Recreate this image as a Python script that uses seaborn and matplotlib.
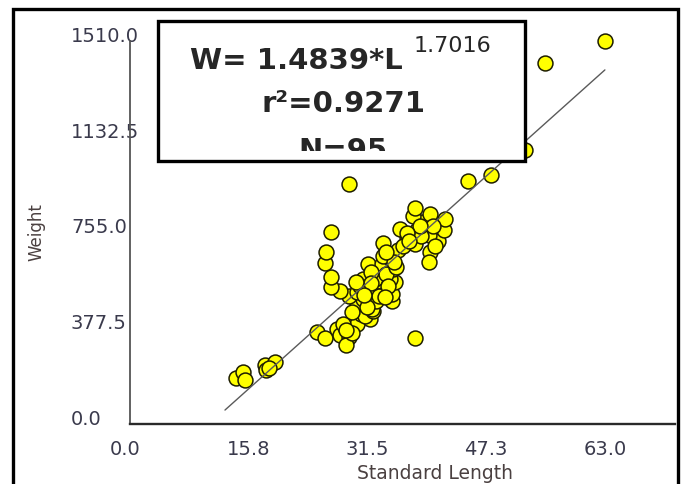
import numpy as np
import pandas as pd
import matplotlib
matplotlib.use("Agg")
import matplotlib.pyplot as plt
import seaborn as sns
from matplotlib.patches import Rectangle
from matplotlib.transforms import ScaledTranslation

# ---- data ----
standard_length = [
    14.0, 15.0, 15.3, 17.9, 18.1, 19.3, 18.4, 24.8, 25.9, 27.4,
    27.9, 29.0, 28.7, 28.5, 29.6, 30.1, 31.8, 30.7, 31.2, 32.3,
    32.1, 30.1, 32.7, 34.7, 30.9, 29.0, 30.1, 33.2, 27.9, 26.7,
    31.7, 33.4, 34.7, 35.1, 32.9, 30.9, 26.7, 32.5, 34.5, 33.8,
    34.9, 31.6, 33.4, 25.9, 34.5, 33.6, 26.0, 35.5, 33.6, 36.7,
    37.8, 39.8, 39.7, 40.8, 39.6, 37.9, 41.6, 35.8, 38.8, 41.8,
    39.8, 37.6, 37.8, 26.7, 29.0, 37.8, 44.9, 47.9, 52.4, 55.0,
    63.0, 34.0, 35.3, 32.0, 33.0, 31.5, 29.5, 28.2, 30.5, 32.0,
    34.2, 36.2, 38.6, 40.2, 38.5, 36.8, 35.0, 34.0, 29.5, 31.0,
    28.6, 33.8, 37.0, 40.5, 30.0,
]
weight = [
    180, 205, 172, 232, 212, 243, 222, 361, 340, 375,
    350, 342, 311, 381, 401, 394, 414, 434, 425, 447,
    453, 473, 486, 486, 493, 506, 519, 526, 526, 539,
    539, 532, 513, 559, 565, 572, 578, 572, 572, 598,
    611, 631, 631, 633, 654, 664, 680, 686, 714, 736,
    710, 677, 638, 723, 745, 762, 764, 770, 795, 810,
    828, 821, 852, 756, 947, 340, 959, 983, 1080, 1422,
    1510, 590, 620, 600, 505, 460, 440, 395, 545, 555,
    545, 700, 740, 780, 780, 755, 640, 680, 360, 510,
    370, 500, 720, 700, 560,
]
fit_length = [12.6, 63.0]
fit_weight = [55, 1396]

x_ticks = [0.0, 15.75, 31.5, 47.25, 63.0]
x_tick_labels = ["0.0", "15.8", "31.5", "47.3", "63.0"]
y_ticks = [0.0, 377.5, 755.0, 1132.5, 1510.0]
y_tick_labels = ["0.0", "377.5", "755.0", "1132.5", "1510.0"]

equation_main = "W= 1.4839*L"
equation_exp = "1.7016"
r2_text = "r\u00b2=0.9271"
n_text = "N=95"

df = pd.DataFrame({"Standard Length": standard_length, "Weight": weight})
fit_df = pd.DataFrame({"x": fit_length, "y": fit_weight})

sns.set_style("white")
plt.rcParams["font.family"] = ["DejaVu Sans"]

W, H = 684, 485
fig = plt.figure(figsize=(W / 100, H / 100), dpi=100)
ax_l, ax_r, ax_t, ax_b = 130, 675, 42, 425
ax = fig.add_axes([ax_l / W, 1 - ax_b / H, (ax_r - ax_l) / W, (ax_b - ax_t) / H])

sns.scatterplot(data=df, x="Standard Length", y="Weight", ax=ax,
                s=115, color="#FFFF00", edgecolor="#1e1e00", linewidth=1.1,
                zorder=2, clip_on=False)
sns.lineplot(data=fit_df, x="x", y="y", ax=ax, color="#5a5a5a",
             linewidth=1.0, zorder=3)

ax.set_xlim(0, 72.3)
ax.set_ylim(0, 1510)
for s in ["top", "right"]:
    ax.spines[s].set_visible(False)
ax.spines["bottom"].set_linewidth(1.7)
ax.spines["bottom"].set_color("#2a2a2a")
ax.spines["left"].set_linewidth(1.3)
ax.spines["left"].set_color("#555555")

lab_color = "#3a3a4c"
ax.set_xticks(x_ticks)
ax.set_xticklabels(x_tick_labels, fontsize=14, color=lab_color)
ax.set_yticks(y_ticks)
ax.set_yticklabels(y_tick_labels, fontsize=14, color=lab_color)
ax.tick_params(axis="x", direction="in", length=7.5, width=1.5,
               color="#333333", pad=11)
ax.tick_params(axis="y", direction="in", length=9.5, width=1.3,
               color="#555555", pad=42.5)
for lab in ax.get_yticklabels():
    lab.set_horizontalalignment("left")
    lab.set_verticalalignment("baseline")
first = ax.get_xticklabels()[0]
first.set_transform(first.get_transform() +
                    ScaledTranslation(-5 / 100, 0, fig.dpi_scale_trans))

ax.set_xlabel("Standard Length", fontsize=13.5, color="#4a4040")
ax.set_ylabel("Weight", fontsize=12, color="#4a4040")
ax.xaxis.set_label_coords((435 - ax_l) / (ax_r - ax_l), (ax_b - 464) / (ax_b - ax_t))
ax.yaxis.set_label_coords((45 - ax_l) / (ax_r - ax_l), (ax_b - 232) / (ax_b - ax_t))

# text box
bx0, bx1, by0, by1 = 158, 525, 22, 162
box = Rectangle((bx0 / W, 1 - by1 / H), (bx1 - bx0) / W, (by1 - by0) / H,
                transform=fig.transFigure, facecolor="white",
                edgecolor="black", linewidth=2.4, zorder=10)
fig.patches.append(box)

fig.text(190 / W, 1 - 69 / H, equation_main, fontsize=21, fontweight="bold",
         ha="left", va="baseline", zorder=11)
fig.text(414 / W, 1 - 52 / H, equation_exp, fontsize=16,
         ha="left", va="baseline", zorder=11)
fig.text(343 / W, 1 - 112 / H, r2_text, fontsize=21, fontweight="bold",
         ha="center", va="baseline", zorder=11)
t = fig.text(343 / W, 1 - 159 / H, n_text, fontsize=21, fontweight="bold",
             ha="center", va="baseline", zorder=11)
clip = Rectangle((bx0 / W, 1 - 152 / H), (bx1 - bx0) / W, 30 / H,
                 transform=fig.transFigure, visible=False)
fig.patches.append(clip)
t.set_clip_path(clip)
t.set_clip_on(True)

# outer frame
frame = Rectangle((13 / W, -0.05), (678 - 13) / W, 1.05 - 10 / H,
                  transform=fig.transFigure, facecolor="none",
                  edgecolor="black", linewidth=2.4, zorder=12)
fig.patches.append(frame)

fig.savefig("out.png", dpi=100)
